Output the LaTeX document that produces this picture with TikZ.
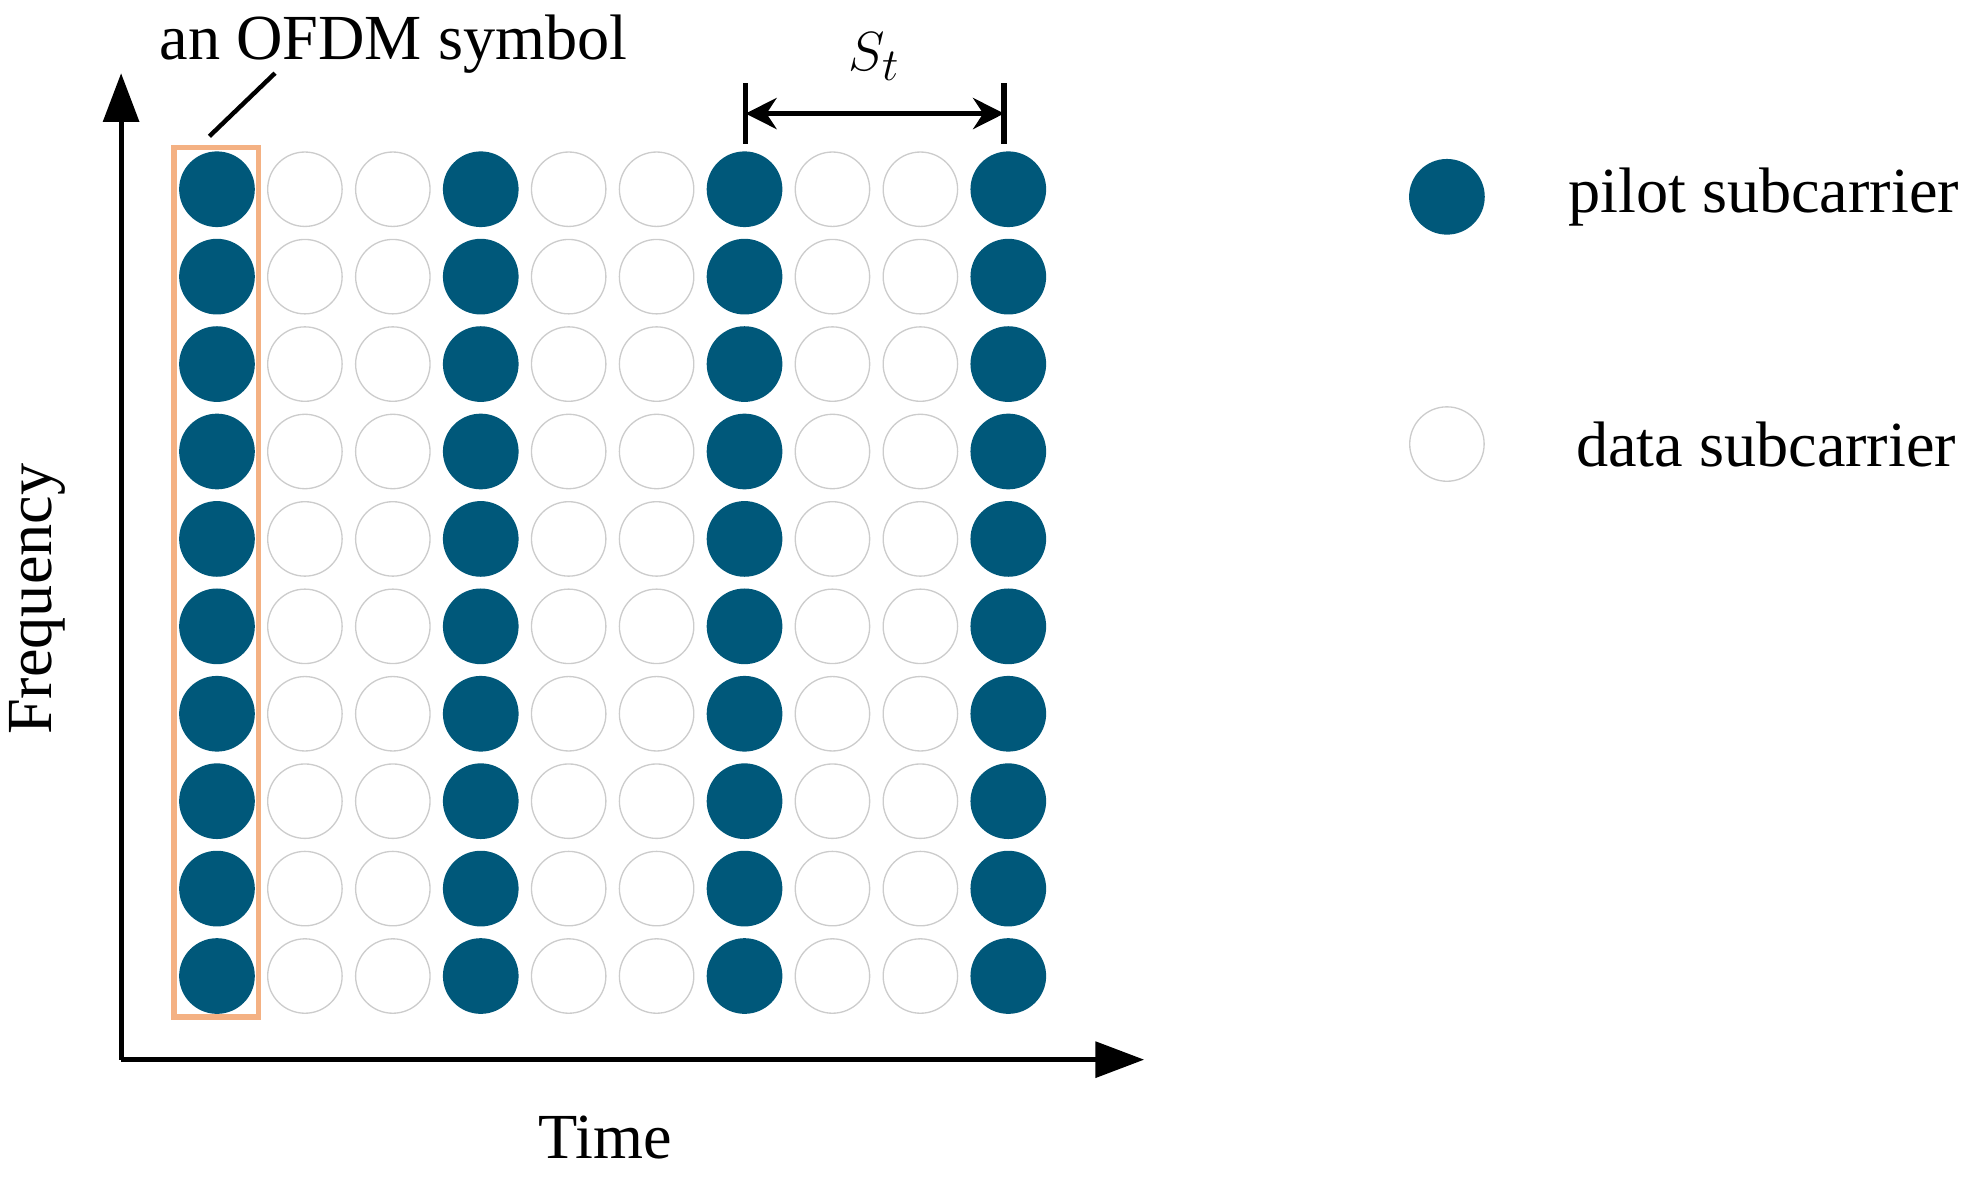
\documentclass[tikz,border=0pt]{standalone}
\usepackage{fontspec}
\setmainfont{Liberation Serif}
\usetikzlibrary{arrows.meta}
\definecolor{pilotblue}{RGB}{0,88,122}
\definecolor{symorange}{RGB}{244,177,131}
\begin{document}
\begin{tikzpicture}[x=0.02cm,y=-0.02cm,
  pilot/.style={circle,fill=pilotblue,minimum size=60*0.02cm,inner sep=0pt},
  data/.style={circle,draw=black!20,line width=0.6pt,minimum size=59*0.02cm,inner sep=0pt},
  lbl/.style={font=\fontsize{29}{34}\selectfont},
  axis/.style={line width=2.2pt,-{Triangle[length=22pt,width=16pt]}}]
  \useasboundingbox (0,0) rectangle (1568,934.6);
  % axes
  \coordinate (origin) at (96,840);
  \coordinate (ytop) at (96,58);
  \coordinate (xend) at (907,840);
  \draw[axis] (origin) -- (ytop);
  \draw[axis] (origin) -- (xend);
  \node[lbl,rotate=90] (freq) at (30,475) {Frequency};
  \node[lbl] (time) at (480,902) {Time};
  % subcarrier grid
  \foreach \c in {0,...,9} {
    \foreach \r in {0,...,9} {
      \pgfmathtruncatemacro{\m}{mod(\c,3)}
      \ifnum\m=0
        \node[pilot] (g\c-\r) at (172+69.7*\c,150+69.3*\r) {};
      \else
        \node[data] (g\c-\r) at (172+69.7*\c,150+69.3*\r) {};
      \fi
    }
  }
  % one OFDM symbol
  \node[draw=symorange,line width=2.5pt,minimum width=67*0.02cm,minimum height=689*0.02cm,inner sep=0pt] (sym) at (171.5,461.5) {};
  \node[lbl] (symlbl) at (312,35) {an OFDM symbol};
  \coordinate (symtip) at (218,58);
  \draw[line width=2pt] (166,108) -- (symtip);
  % pilot spacing
  \coordinate (sl) at (591,90);
  \coordinate (sr) at (796,90);
  \draw[line width=2.5pt] (591,66) -- (591,114);
  \draw[line width=2.5pt] (796,66) -- (796,114);
  \draw[line width=2.5pt,{Stealth[length=14pt,width=14pt]}-{Stealth[length=14pt,width=14pt]}] (sl) -- (sr);
  \node[lbl] (st) at (693,45) {$S_t$};
  % legend
  \node[pilot] (lp) at (1147,156) {};
  \node[lbl] (lpt) at (1398,156) {pilot subcarrier};
  \node[data] (ld) at (1147,352) {};
  \node[lbl] (ldt) at (1400,352) {data subcarrier};
\end{tikzpicture}
\end{document}
